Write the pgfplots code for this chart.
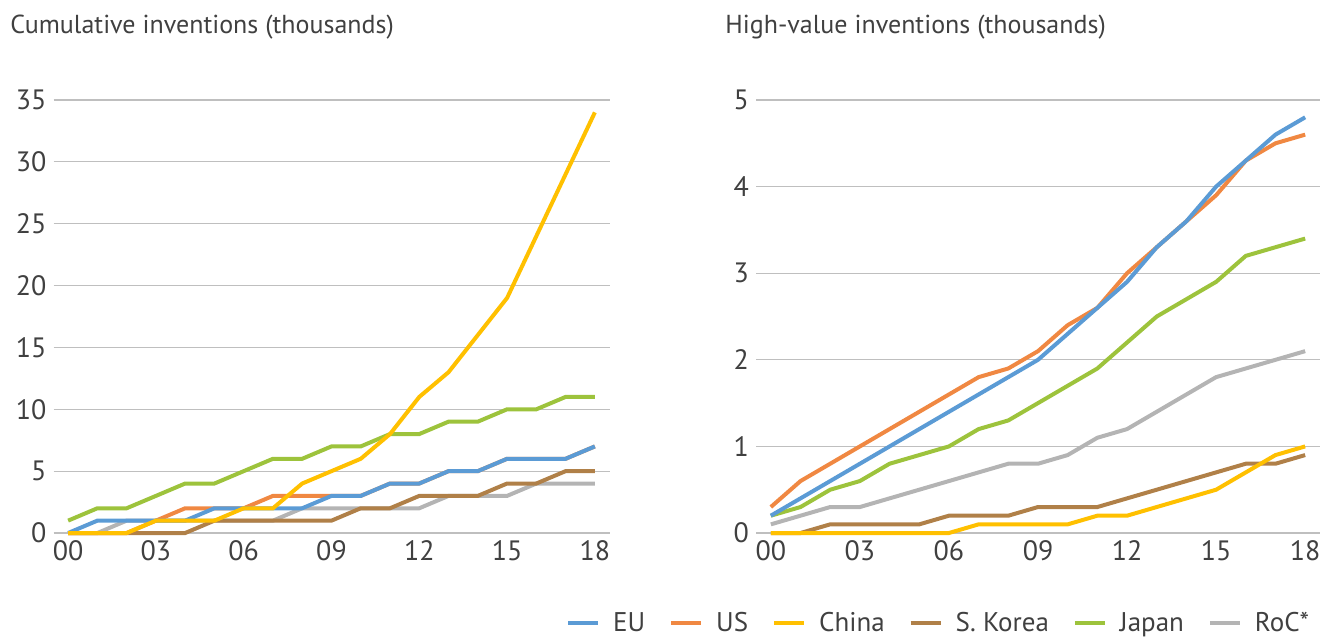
\documentclass[border=0pt]{standalone}
\usepackage{pgfplots}
\pgfplotsset{compat=1.18}
\usepackage{pgfplotstable}
\usepackage{fontspec}
\setmainfont{PT Sans}
\definecolor{cEU}{RGB}{91,155,213}
\definecolor{cUS}{RGB}{240,136,66}
\definecolor{cCN}{RGB}{255,192,0}
\definecolor{cKR}{RGB}{176,128,72}
\definecolor{cJP}{RGB}{157,195,60}
\definecolor{cRC}{RGB}{180,180,180}
\definecolor{txt}{RGB}{64,64,64}
\definecolor{grd}{RGB}{191,191,191}

\pgfplotstableread{
yr EU US CN KR JP RC
0  0 0 0 0 1 0
1  1 0 0 0 2 0
2  1 0 0 0 2 1
3  1 1 1 0 3 1
4  1 2 1 0 4 1
5  2 2 1 1 4 1
6  2 2 2 1 5 1
7  2 3 2 1 6 1
8  2 3 4 1 6 2
9  3 3 5 1 7 2
10 3 3 6 2 7 2
11 4 4 8 2 8 2
12 4 4 11 3 8 2
13 5 5 13 3 9 3
14 5 5 16 3 9 3
15 6 6 19 4 10 3
16 6 6 24 4 10 4
17 6 6 29 5 11 4
18 7 7 34 5 11 4
}\cumtable

\pgfplotstableread{
yr EU US CN KR JP RC
0  0.2 0.3 0.0 0.0 0.2 0.1
1  0.4 0.6 0.0 0.0 0.3 0.2
2  0.6 0.8 0.0 0.1 0.5 0.3
3  0.8 1.0 0.0 0.1 0.6 0.3
4  1.0 1.2 0.0 0.1 0.8 0.4
5  1.2 1.4 0.0 0.1 0.9 0.5
6  1.4 1.6 0.0 0.2 1.0 0.6
7  1.6 1.8 0.1 0.2 1.2 0.7
8  1.8 1.9 0.1 0.2 1.3 0.8
9  2.0 2.1 0.1 0.3 1.5 0.8
10 2.3 2.4 0.1 0.3 1.7 0.9
11 2.6 2.6 0.2 0.3 1.9 1.1
12 2.9 3.0 0.2 0.4 2.2 1.2
13 3.3 3.3 0.3 0.5 2.5 1.4
14 3.6 3.6 0.4 0.6 2.7 1.6
15 4.0 3.9 0.5 0.7 2.9 1.8
16 4.3 4.3 0.7 0.8 3.2 1.9
17 4.6 4.5 0.9 0.8 3.3 2.0
18 4.8 4.6 1.0 0.9 3.4 2.1
}\hvtable

\pgfplotsset{
  myaxis/.style={
    scale only axis,
    anchor=south west,
    xmin=-0.5, xmax=18.5, ymin=0,
    xtick={0,3,...,18},
    xticklabels={00,03,06,09,12,15,18},
    axis line style={draw=none},
    major tick length=0pt,
    ymajorgrids,
    grid style={draw=grd, line width=0.6pt},
    tick label style={font=\fontsize{14}{16}\selectfont, text=txt},
    /pgf/number format/assume math mode=true,
    every axis plot/.append style={line width=2pt, no marks},
    clip=false,
  },
}

\begin{document}
\begin{tikzpicture}
\useasboundingbox (0,0) rectangle (660pt,319pt);
\node[anchor=west, inner sep=0pt, text=txt, font=\fontsize{13}{15}\selectfont] at (5pt,305.5pt) {Cumulative inventions (thousands)};
\node[anchor=west, inner sep=0pt, text=txt, font=\fontsize{13}{15}\selectfont] at (362.5pt,305.5pt) {High-value inventions (thousands)};

\begin{axis}[myaxis,
  at={(26.75pt,52.5pt)}, width=278pt, height=216.5pt,
  ymax=35, ytick={0,5,...,35}]
\addplot[cRC] table[x=yr,y=RC]{\cumtable};
\addplot[cJP] table[x=yr,y=JP]{\cumtable};
\addplot[cKR] table[x=yr,y=KR]{\cumtable};
\addplot[cUS] table[x=yr,y=US]{\cumtable};
\addplot[cEU] table[x=yr,y=EU]{\cumtable};
\addplot[cCN] table[x=yr,y=CN]{\cumtable};
\end{axis}

\begin{axis}[myaxis,
  at={(378pt,52.5pt)}, width=282pt, height=216.5pt,
  ymax=5, ytick={0,1,...,5},
  legend columns=6,
  legend style={draw=none, fill=none, at={(0.322,-0.208)}, anchor=center,
    inner sep=0pt, nodes={inner sep=0pt},
    font=\fontsize{13.5}{15}\selectfont, text=txt,
    /tikz/every odd column/.append style={column sep=6.5pt},
    /tikz/every even column/.append style={column sep=12pt}},
  legend image code/.code={\draw[line width=2pt] (0pt,0pt) -- (15pt,0pt);}]
\addlegendimage{cEU, line width=2pt}
\addlegendimage{cUS, line width=2pt}
\addlegendimage{cCN, line width=2pt}
\addlegendimage{cKR, line width=2pt}
\addlegendimage{cJP, line width=2pt}
\addlegendimage{cRC, line width=2pt}
\addplot[cRC, forget plot] table[x=yr,y=RC]{\hvtable};
\addplot[cJP, forget plot] table[x=yr,y=JP]{\hvtable};
\addplot[cKR, forget plot] table[x=yr,y=KR]{\hvtable};
\addplot[cUS, forget plot] table[x=yr,y=US]{\hvtable};
\addplot[cEU, forget plot] table[x=yr,y=EU]{\hvtable};
\addplot[cCN, forget plot] table[x=yr,y=CN]{\hvtable};
\legend{EU,US,China,S. Korea,Japan,RoC*}
\end{axis}
\end{tikzpicture}
\end{document}
